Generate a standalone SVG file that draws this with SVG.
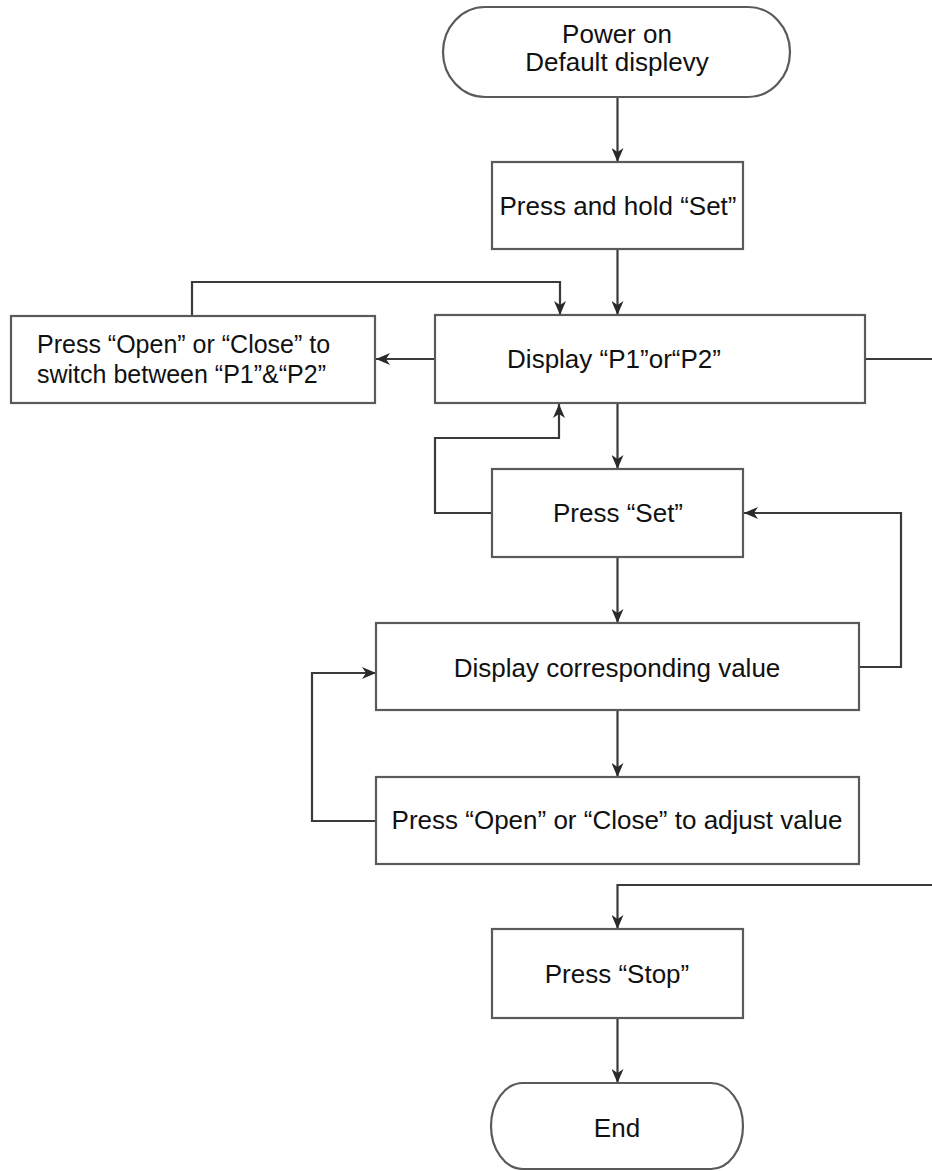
<svg xmlns="http://www.w3.org/2000/svg" width="932" height="1171" viewBox="0 0 932 1171">
  <style>
    .shape { fill: #ffffff; stroke: #5a5a5a; stroke-width: 2.2; }
    .lbl { font-family: "Liberation Sans", Arial, sans-serif; font-size: 26px; fill: #111111; }
    .small { font-size: 25px; }
    .mid { text-anchor: middle; }
    .conn { fill: none; stroke: #3a3a3a; stroke-width: 2.2; }
  </style>
  <defs>
    <marker id="arr" markerUnits="userSpaceOnUse" markerWidth="15" markerHeight="12" refX="14" refY="6" orient="auto">
      <path d="M0,0 L14,6 L0,12 L4,6 Z" fill="#2a2a2a"/>
    </marker>
  </defs>
  <rect width="932" height="1171" fill="#ffffff"/>

  <g id="connectors">
    <path class="conn" d="M617.5,97 L617.5,162" marker-end="url(#arr)"/>
    <path class="conn" d="M617.5,249 L617.5,315" marker-end="url(#arr)"/>
    <path class="conn" d="M435,359 L376,359" marker-end="url(#arr)"/>
    <path class="conn" d="M192,316 L192,282 L560,282 L560,315" marker-end="url(#arr)"/>
    <path class="conn" d="M865,359 L932,359"/>
    <path class="conn" d="M617.5,403 L617.5,469" marker-end="url(#arr)"/>
    <path class="conn" d="M492,513 L435,513 L435,438 L559,438 L559,404" marker-end="url(#arr)"/>
    <path class="conn" d="M617.5,557 L617.5,623" marker-end="url(#arr)"/>
    <path class="conn" d="M859,667 L901,667 L901,513 L744,513" marker-end="url(#arr)"/>
    <path class="conn" d="M617.5,710 L617.5,777" marker-end="url(#arr)"/>
    <path class="conn" d="M376,821 L312,821 L312,673 L376,673" marker-end="url(#arr)"/>
    <path class="conn" d="M932,885 L617.5,885 L617.5,929" marker-end="url(#arr)"/>
    <path class="conn" d="M617.5,1018 L617.5,1083" marker-end="url(#arr)"/>
  </g>

  <g id="start">
    <rect class="shape" x="443" y="7" width="347" height="90" rx="42" ry="45"/>
    <text class="lbl mid" x="617" y="43">Power on</text>
    <text class="lbl mid" x="617" y="71">Default displevy</text>
  </g>

  <g id="press-hold-set">
    <rect class="shape" x="492" y="162" width="251" height="87"/>
    <text class="lbl mid" x="618" y="215">Press and hold “Set”</text>
  </g>

  <g id="display-p1-p2">
    <rect class="shape" x="435" y="315" width="430" height="88"/>
    <text class="lbl mid" x="614" y="368">Display “P1”or“P2”</text>
  </g>

  <g id="switch-p1-p2">
    <rect class="shape" x="11" y="316" width="364" height="87"/>
    <text class="lbl small" x="37" y="353">Press “Open” or “Close” to</text>
    <text class="lbl small" x="37" y="383">switch between “P1”&amp;“P2”</text>
  </g>

  <g id="press-set">
    <rect class="shape" x="492" y="469" width="251" height="88"/>
    <text class="lbl mid" x="618" y="522">Press “Set”</text>
  </g>

  <g id="display-value">
    <rect class="shape" x="376" y="623" width="483" height="87"/>
    <text class="lbl mid" x="617" y="677">Display corresponding value</text>
  </g>

  <g id="adjust-value">
    <rect class="shape" x="376" y="777" width="483" height="87"/>
    <text class="lbl mid" x="617" y="829">Press “Open” or “Close” to adjust value</text>
  </g>

  <g id="press-stop">
    <rect class="shape" x="492" y="929" width="251" height="89"/>
    <text class="lbl mid" x="617" y="983">Press “Stop”</text>
  </g>

  <g id="end">
    <rect class="shape" x="491" y="1083" width="252" height="86" rx="32" ry="43"/>
    <text class="lbl mid" x="617" y="1137">End</text>
  </g>
</svg>
